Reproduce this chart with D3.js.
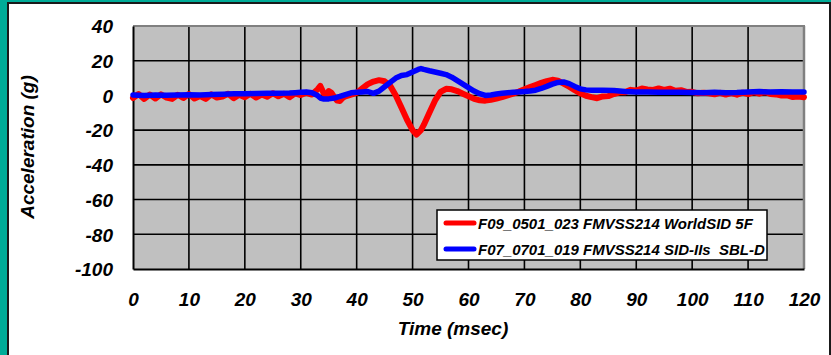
<!DOCTYPE html>
<html>
<head>
<meta charset="utf-8">
<script src="https://cdn.jsdelivr.net/npm/d3@7/dist/d3.min.js"></script>
<style>
  html, body { margin: 0; padding: 0; background: #00AC98; }
  svg { display: block; }
  text { font-family: "Liberation Sans", Arial, sans-serif; font-weight: bold; font-style: italic; fill: #000; }
</style>
</head>
<body>
<svg id="chart" width="831" height="355"></svg>
<script>
// Time axis ticks (msec) and acceleration ticks (g)
const xTicks = [0, 10, 20, 30, 40, 50, 60, 70, 80, 90, 100, 110, 120];
const yTicks = [40, 20, 0, -20, -40, -60, -80, -100];

// Series names
const seriesNames = [
  "F09_0501_023 FMVSS214 WorldSID 5F",
  "F07_0701_019 FMVSS214 SID-IIs  SBL-D"
];
const seriesColors = ["#FF0000", "#0000FF"];

// WorldSID 5F lateral acceleration: [time msec, g]
const worldSidData = [
  [0,-1.5],[1,0.8],[2,-2],[3,0.5],[4,-1.8],[5,0.6],[6,-1.2],[7,-2],[8,0.4],[9,-1.5],
  [10,0.8],[11,-1.8],[12,-0.4],[13,-2],[14,0.6],[15,-1.2],[16,-0.6],[17,1],[18,-1.6],[19,0.4],
  [20,-1],[21,1],[22,-1.2],[23,0.5],[24,-0.8],[25,1.3],[26,-0.5],[27,1],[28,-1],[29,1.2],
  [30,0.2],[31,1.5],[32,0.5],[33,3.5],[33.5,5.5],[34,2],[34.5,-1],[35,2.5],[35.5,1.5],[36,-1],
  [36.5,-3],[37,-3.2],[37.5,-1.5],[38,-0.5],[39,0.5],[40,1.5],[41,4],[42,6.5],[43,8],[44,8.8],
  [45,8.2],[46,5.5],[47,0],[48,-7],[49,-14],[50,-20],[50.7,-22.5],[51.5,-20],[52,-17],[53,-10],
  [54,-3],[55,2],[56,3.8],[57,3.5],[58,2.5],[59,1],[60,-0.5],[61,-2],[62,-2.8],[63,-3],
  [64,-2.5],[65,-1.8],[66,-1],[67,0],[68,1],[69,2.2],[70,3.5],[71,4.8],[72,6],[73,7.2],
  [74,8.2],[75,9],[76,8.5],[77,6.8],[78,5],[79,3],[80,1.2],[81,-0.2],[82,-1],[83,-1.6],
  [84,-0.6],[85,-0.4],[86,0.8],[87,1.8],[88,1.9],[89,3.2],[90,2.8],[91,4],[92,3.4],[93,3.2],
  [94,4],[95,3.2],[96,3.9],[97,2.7],[98,3],[99,2],[100,2.1],[101,1.2],[102,1.6],[103,1.2],
  [104,0.7],[105,1.5],[106,0.5],[107,1.3],[108,0.4],[109,1.6],[110,0.8],[111,1.9],[112,1],[113,2],
  [114,0.8],[115,0.6],[116,-0.1],[117,0],[118,-0.9],[119,-0.6],[120,-1]
];

// SID-IIs SBL-D lateral acceleration: [time msec, g]
const sid2sData = [
  [0,0.3],[2,0],[4,0.2],[6,0.1],[8,0.3],[10,0.4],[12,0.3],[14,0.6],[16,0.7],[18,0.9],
  [20,1],[22,1.1],[24,1.2],[26,1.3],[28,1.4],[29,1.6],[30,1.8],[31,2],[32,1.5],[33,0],
  [33.5,-1.5],[34,-2],[35,-2],[36,-1.5],[37,-0.6],[38,0.5],[39,1.5],[40,1.8],[41,2],[42,2.2],
  [43,1.2],[44,2.5],[45,5],[46,7.5],[47,10],[48,11.5],[49,12],[50,13.5],[51,15],[51.5,15.5],
  [52,15],[53,14.2],[54,13.5],[55,12.8],[56,12],[57,10.5],[58,8.5],[59,6.5],[60,4.5],[61,2.5],
  [62,1],[63,0],[64,0.3],[65,0.8],[66,1.2],[67,1.5],[68,1.8],[69,2],[70,2.2],[71,2.5],
  [72,3],[73,4],[74,5.2],[75,6.5],[76,7.5],[77,7.8],[78,6.8],[79,5.2],[80,3.8],[81,3.2],
  [82,3],[84,3],[86,2.8],[88,2.3],[90,2],[92,2],[94,1.8],[96,1.8],[98,1.8],[100,1.7],
  [102,1.6],[104,1.8],[106,1.6],[108,1.7],[110,2],[112,2.2],[114,2],[116,2.1],[118,2],[120,2]
];

const svg = d3.select("#chart");

// White slide panel with dark border
svg.append("rect")
  .attr("x", 8).attr("y", 3).attr("width", 822).attr("height", 362)
  .attr("fill", "#fff").attr("stroke", "#1a1a1a").attr("stroke-width", 2);

const plot = { left: 133, top: 26, right: 804, bottom: 269 };

const x = d3.scaleLinear().domain([0, 120]).range([plot.left, plot.right]);
const y = d3.scaleLinear().domain([-100, 40]).range([plot.bottom, plot.top]);

// Plot area background
svg.append("rect")
  .attr("x", plot.left).attr("y", plot.top)
  .attr("width", plot.right - plot.left).attr("height", plot.bottom - plot.top)
  .attr("fill", "#C0C0C0");

// Gridlines
const grid = svg.append("g");
grid.selectAll("line.v").data(xTicks.slice(1, -1)).join("line")
  .attr("class", "v")
  .attr("x1", d => x(d)).attr("x2", d => x(d))
  .attr("y1", plot.top).attr("y2", plot.bottom)
  .attr("stroke", "#000").attr("stroke-width", 1.6);
grid.selectAll("line.h").data(yTicks.slice(1, -1)).join("line")
  .attr("class", "h")
  .attr("x1", plot.left).attr("x2", plot.right)
  .attr("y1", d => y(d)).attr("y2", d => y(d))
  .attr("stroke", "#000").attr("stroke-width", 1.6);

// Plot area frame: gray top/right, black axes left/bottom
svg.append("line").attr("x1", plot.left).attr("x2", plot.right + 1)
  .attr("y1", plot.top).attr("y2", plot.top)
  .attr("stroke", "#808080").attr("stroke-width", 2);
svg.append("line").attr("x1", plot.right).attr("x2", plot.right)
  .attr("y1", plot.top).attr("y2", plot.bottom)
  .attr("stroke", "#808080").attr("stroke-width", 2.5);

// Axes via d3 axis generators (plain hyphen for negatives)
const fmt = d => String(d);
const yAxis = d3.axisLeft(y).tickValues(yTicks).tickSize(0).tickPadding(20).tickFormat(fmt);
const yG = svg.append("g").attr("transform", `translate(${plot.left},0)`).call(yAxis);
yG.select(".domain").attr("stroke", "#000").attr("stroke-width", 2);
yG.selectAll("text")
  .style("font-family", '"Liberation Sans", Arial, sans-serif')
  .style("font-weight", "bold").style("font-style", "italic")
  .style("font-size", "19px").attr("dy", "0.36em").attr("fill", "#000");

const xAxis = d3.axisBottom(x).tickValues(xTicks).tickSize(0).tickPadding(24).tickFormat(fmt);
const xG = svg.append("g").attr("transform", `translate(0,${plot.bottom})`).call(xAxis);
xG.select(".domain").attr("stroke", "#000").attr("stroke-width", 2);
xG.selectAll("text")
  .style("font-family", '"Liberation Sans", Arial, sans-serif')
  .style("font-weight", "bold").style("font-style", "italic")
  .style("font-size", "19px").attr("fill", "#000");

// Axis titles
svg.append("text")
  .attr("transform", "translate(34,147) rotate(-90)")
  .attr("text-anchor", "middle")
  .style("font-size", "19px")
  .text("Acceleration (g)");
svg.append("text")
  .attr("x", 453).attr("y", 335)
  .attr("text-anchor", "middle")
  .style("font-size", "19px")
  .text("Time (msec)");

// Data lines
const line = d3.line().x(d => x(d[0])).y(d => y(d[1]));
const seriesData = [worldSidData, sid2sData];
const widths = [6, 5.5];
svg.append("g").selectAll("path").data(seriesData).join("path")
  .attr("d", line)
  .attr("fill", "none")
  .attr("stroke", (d, i) => seriesColors[i])
  .attr("stroke-width", (d, i) => widths[i])
  .attr("stroke-linejoin", "round")
  .attr("stroke-linecap", "round");

// Legend
const legend = svg.append("g");
legend.append("rect")
  .attr("x", 437).attr("y", 210).attr("width", 330).attr("height", 50)
  .attr("fill", "#fff").attr("stroke", "#000").attr("stroke-width", 1.5);
const rows = legend.selectAll("g.row").data(seriesNames).join("g")
  .attr("class", "row")
  .attr("transform", (d, i) => `translate(0,${223 + i * 26})`);
rows.append("line")
  .attr("x1", 446).attr("x2", 474).attr("y1", 0).attr("y2", 0)
  .attr("stroke", (d, i) => seriesColors[i]).attr("stroke-width", 5)
  .attr("stroke-linecap", "round");
rows.append("text")
  .attr("x", 478).attr("y", 5.5)
  .attr("xml:space", "preserve")
  .style("white-space", "pre")
  .style("font-size", "15px")
  .text(d => d);
</script>
</body>
</html>
